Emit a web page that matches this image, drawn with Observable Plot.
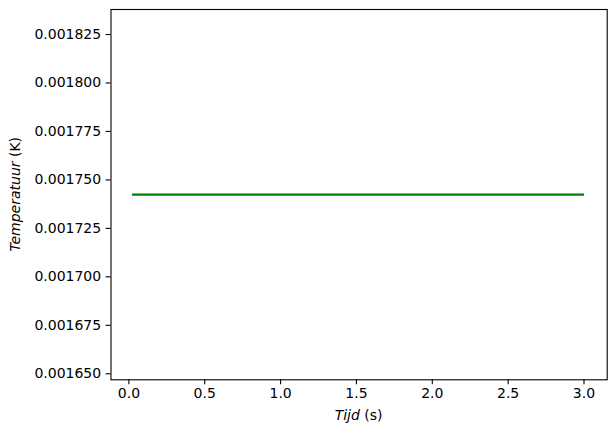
<!DOCTYPE html>
<html>
<head>
<meta charset="utf-8">
<script src="https://cdn.jsdelivr.net/npm/d3@7"></script>
<script src="https://cdn.jsdelivr.net/npm/@observablehq/plot@0.6"></script>
<style>
  html, body { margin: 0; padding: 0; background: #fff; }
  #chart svg { display: block; font-family: "DejaVu Sans", sans-serif; }
</style>
</head>
<body>
<div id="chart"></div>
<script>
// Data
const tijd = [0.02, 3.0];
const temperatuur = [0.0017424, 0.0017424];
const xTicks = [0.0, 0.5, 1.0, 1.5, 2.0, 2.5, 3.0];
const yTicks = [0.00165, 0.001675, 0.0017, 0.001725, 0.00175, 0.001775, 0.0018, 0.001825];

const data = tijd.map((t, i) => ({t, T: temperatuur[i]}));

const W = 615, H = 436;
const mL = 110.5, mR = 8.3, mT = 9, mB = 56.7;

const plot = Plot.plot({
  width: W,
  height: H,
  marginLeft: mL,
  marginRight: mR,
  marginTop: mT,
  marginBottom: mB,
  style: {fontSize: "14px", fontFamily: "DejaVu Sans, sans-serif", color: "#000", background: "#fff", overflow: "visible"},
  x: {domain: [-0.118, 3.153], ticks: xTicks, tickFormat: d3.format(".1f"), label: null, tickSize: 4.9, tickPadding: 4.9},
  y: {domain: [0.0016469, 0.0018379], ticks: yTicks, tickFormat: d3.format(".6f"), label: null, tickSize: 4.9, tickPadding: 4.9},
  marks: [
    Plot.axisX({ticks: xTicks, tickFormat: d3.format(".1f"), tickSize: 4.9, tickPadding: 3.5, strokeWidth: 1.1, label: null}),
    Plot.axisY({ticks: yTicks, tickFormat: d3.format(".6f"), tickSize: 4.9, tickPadding: 4.9, strokeWidth: 1.1, label: null}),
    Plot.line(data, {x: "t", y: "T", stroke: "#008000", strokeWidth: 2.08, strokeLinecap: "butt"}),
    Plot.frame({stroke: "#000", strokeWidth: 1.1})
  ]
});

document.getElementById("chart").appendChild(plot);

// Axis labels with mixed italic / normal text
const svg = d3.select(plot);
const xl = svg.append("text")
  .attr("x", (mL + (W - mR)) / 2)
  .attr("y", 420)
  .attr("text-anchor", "middle")
  .attr("font-size", "14px")
  .attr("fill", "#000");
xl.append("tspan").attr("font-style", "italic").text("Tijd");
xl.append("tspan").text(" (s)");

const yl = svg.append("text")
  .attr("transform", `translate(19.5,${(mT + (H - mB)) / 2}) rotate(-90)`)
  .attr("text-anchor", "middle")
  .attr("font-size", "14px")
  .attr("fill", "#000");
yl.append("tspan").attr("font-style", "italic").text("Temperatuur");
yl.append("tspan").text(" (K)");
</script>
</body>
</html>
